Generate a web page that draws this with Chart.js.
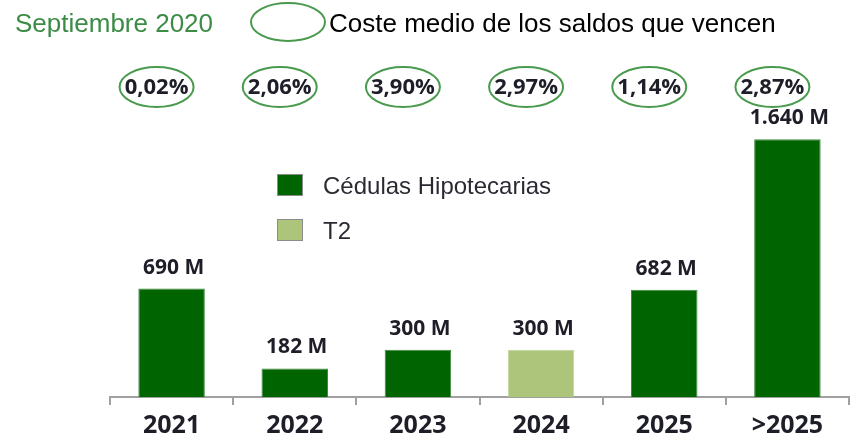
<!DOCTYPE html>
<html>
<head>
<meta charset="utf-8">
<script src="https://cdn.jsdelivr.net/npm/chart.js@4"></script>
<style>
  html, body { margin: 0; padding: 0; background: #fff; overflow: hidden; }
  #wrap { position: relative; width: 851px; height: 446px; }
</style>
</head>
<body>
<div id="wrap"><canvas id="vencimientos"></canvas></div>
<script>
// Chart data
const categories = ["2021", "2022", "2023", "2024", "2025", ">2025"];
const cedulasValues = [690, 182, 300, null, 682, 1640];
const t2Values = [null, null, null, 300, null, null];
const costeMedio = ["0,02%", "2,06%", "3,90%", "2,97%", "1,14%", "2,87%"];
const barLabels = ["690 M", "182 M", "300 M", "300 M", "682 M", "1.640 M"];

const DARK_GREEN = "#006400";
const LIGHT_GREEN = "#ADC57A";
const OVAL_GREEN = "#4A9A4E";
const BOLD_FONT = "'Open Sans', 'DejaVu Sans', sans-serif";
const SANS_FONT = "'Liberation Sans', Arial, sans-serif";

// Header, legend, ovals and value labels
const annotationsPlugin = {
  id: "annotations",
  afterDatasetsDraw(chart) {
    const ctx = chart.ctx;
    const xScale = chart.scales.x;
    ctx.save();

    // Title
    ctx.textBaseline = "middle";
    ctx.textAlign = "left";
    ctx.font = "26px " + SANS_FONT;
    ctx.fillStyle = "#3C8C46";
    ctx.fillText("Septiembre 2020", 15, 25);

    // Oval key
    ctx.strokeStyle = OVAL_GREEN;
    ctx.lineWidth = 2;
    ctx.beginPath();
    ctx.ellipse(288, 22, 37, 19, 0, 0, Math.PI * 2);
    ctx.stroke();
    ctx.fillStyle = "#000";
    ctx.fillText("Coste medio de los saldos que vencen", 329, 25);

    // Average cost ovals
    ctx.font = "bold 22px " + BOLD_FONT;
    ctx.textAlign = "center";
    costeMedio.forEach((txt, i) => {
      const cx = xScale.getPixelForValue(i) - 15;
      const cy = 87;
      ctx.beginPath();
      ctx.ellipse(cx, cy, 37, 20, 0, 0, Math.PI * 2);
      ctx.strokeStyle = OVAL_GREEN;
      ctx.stroke();
      ctx.fillStyle = "#1E1E28";
      ctx.fillText(txt, cx, cy + 1);
    });

    // Value labels over bars
    ctx.font = "bold 21px " + BOLD_FONT;
    ctx.textBaseline = "alphabetic";
    chart.data.datasets.forEach((ds, di) => {
      const meta = chart.getDatasetMeta(di);
      meta.data.forEach((bar, i) => {
        if (ds.data[i] == null) return;
        ctx.fillStyle = "#1E1E28";
        ctx.fillText(barLabels[i], bar.x + 2, bar.y - 15);
      });
    });

    // Legend
    ctx.font = "24px " + SANS_FONT;
    ctx.textAlign = "left";
    ctx.textBaseline = "middle";
    chart.data.datasets.forEach((ds, di) => {
      const top = 174 + di * 45;
      ctx.fillStyle = ds.backgroundColor;
      ctx.fillRect(277, top, 26, 22);
      ctx.strokeStyle = "#8C8C8C";
      ctx.lineWidth = 1;
      ctx.strokeRect(277.5, top + 0.5, 25, 21);
      ctx.fillStyle = "#2A2A33";
      ctx.fillText(ds.label, 323, top + 13);
    });

    ctx.restore();
  },
};

new Chart(document.getElementById("vencimientos").getContext("2d"), {
  type: "bar",
  data: {
    labels: categories,
    datasets: [
      {
        label: "Cédulas Hipotecarias",
        data: cedulasValues,
        backgroundColor: DARK_GREEN,
        borderColor: "#3F8A3F",
        borderWidth: 1,
      },
      {
        label: "T2",
        data: t2Values,
        backgroundColor: LIGHT_GREEN,
        borderColor: "#C2D69B",
        borderWidth: 1,
      },
    ],
  },
  options: {
    responsive: true,
    maintainAspectRatio: false,
    animation: false,
    layout: { padding: { top: 114, left: 110, right: 2, bottom: 0 } },
    datasets: {
      bar: { grouped: false, categoryPercentage: 1, barPercentage: 0.54 },
    },
    plugins: {
      legend: { display: false },
      tooltip: { enabled: false },
    },
    scales: {
      x: {
        grid: {
          drawOnChartArea: false,
          tickLength: 8,
          color: "#A0A0A0",
          lineWidth: 2,
        },
        border: { color: "#A0A0A0", width: 2 },
        ticks: {
          color: "#1E1E28",
          padding: 8,
          font: { family: BOLD_FONT, size: 25, weight: "bold", lineHeight: 1 },
        },
      },
      y: { display: false, min: 0, max: 1800 },
    },
  },
  plugins: [annotationsPlugin],
});
</script>
</body>
</html>
